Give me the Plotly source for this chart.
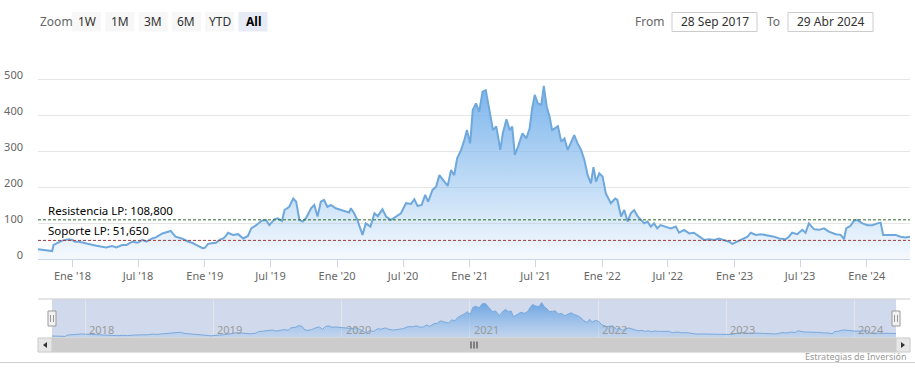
import plotly.graph_objects as go

W, H = 915, 380

# ---------------- data ----------------
dates = [
    "2017-09-28", "2017-10-10", "2017-10-24", "2017-11-06", "2017-11-10", "2017-11-20", "2017-12-04", "2017-12-22",
    "2018-01-02", "2018-01-08", "2018-01-19", "2018-02-06", "2018-02-24", "2018-03-08", "2018-03-24", "2018-04-04",
    "2018-04-20", "2018-05-02", "2018-05-18", "2018-05-30", "2018-06-15", "2018-06-30", "2018-07-13", "2018-07-24",
    "2018-08-09", "2018-08-19", "2018-09-06", "2018-09-18", "2018-09-29", "2018-10-12", "2018-10-30", "2018-11-17",
    "2018-11-27", "2018-12-08", "2018-12-17", "2018-12-26", "2019-01-01", "2019-01-10", "2019-01-20", "2019-02-01",
    "2019-02-11", "2019-02-21", "2019-03-01", "2019-03-06", "2019-03-20", "2019-04-03", "2019-04-17", "2019-04-30",
    "2019-05-09", "2019-05-23", "2019-06-06", "2019-06-19", "2019-06-28", "2019-07-12", "2019-07-21", "2019-08-02",
    "2019-08-09", "2019-08-22", "2019-09-02", "2019-09-10", "2019-09-19", "2019-09-28", "2019-10-07", "2019-10-21",
    "2019-10-30", "2019-11-08", "2019-11-17", "2019-11-26", "2019-12-05", "2019-12-15", "2019-12-28", "2020-01-11",
    "2020-01-25", "2020-02-03", "2020-02-08", "2020-02-17", "2020-02-26", "2020-03-11", "2020-03-20", "2020-04-02",
    "2020-04-13", "2020-04-22", "2020-05-05", "2020-05-15", "2020-05-28", "2020-06-11", "2020-06-25", "2020-07-09",
    "2020-07-23", "2020-08-01", "2020-08-10", "2020-08-21", "2020-08-31", "2020-09-08", "2020-09-20", "2020-09-30",
    "2020-10-09", "2020-10-18", "2020-11-01", "2020-11-10", "2020-11-19", "2020-11-27", "2020-12-08", "2020-12-17",
    "2020-12-24", "2021-01-02", "2021-01-09", "2021-01-18", "2021-01-27", "2021-02-05", "2021-02-14", "2021-02-23",
    "2021-03-06", "2021-03-15", "2021-03-26", "2021-04-02", "2021-04-12", "2021-04-21", "2021-04-28", "2021-05-05",
    "2021-05-14", "2021-05-26", "2021-06-06", "2021-06-15", "2021-06-22", "2021-06-29", "2021-07-08", "2021-07-17",
    "2021-07-24", "2021-08-01", "2021-08-09", "2021-08-16", "2021-08-25", "2021-09-01", "2021-09-10", "2021-09-19",
    "2021-09-28", "2021-10-07", "2021-10-16", "2021-10-25", "2021-11-04", "2021-11-13", "2021-11-22", "2021-12-01",
    "2021-12-08", "2021-12-15", "2021-12-24", "2022-01-02", "2022-01-11", "2022-01-25", "2022-02-06", "2022-02-12",
    "2022-02-22", "2022-03-03", "2022-03-12", "2022-03-21", "2022-03-30", "2022-04-08", "2022-04-18", "2022-04-27",
    "2022-05-06", "2022-05-15", "2022-05-24", "2022-06-02", "2022-06-11", "2022-06-25", "2022-07-09", "2022-07-23",
    "2022-08-01", "2022-08-15", "2022-08-29", "2022-09-11", "2022-09-25", "2022-10-09", "2022-10-23", "2022-11-06",
    "2022-11-19", "2022-12-03", "2022-12-17", "2022-12-26", "2023-01-09", "2023-01-23", "2023-02-06", "2023-02-15",
    "2023-03-01", "2023-03-15", "2023-03-28", "2023-04-11", "2023-04-20", "2023-05-04", "2023-05-22", "2023-05-31",
    "2023-06-09", "2023-06-23", "2023-07-07", "2023-07-16", "2023-07-25", "2023-08-08", "2023-08-22", "2023-09-05",
    "2023-09-18", "2023-10-07", "2023-10-21", "2023-10-30", "2023-11-05", "2023-11-17", "2023-11-26", "2023-12-06",
    "2023-12-20", "2024-01-03", "2024-01-16", "2024-01-30", "2024-02-08", "2024-02-15", "2024-03-02", "2024-03-20",
    "2024-04-03", "2024-04-17", "2024-04-29",
]
values = [
    27, 25, 23, 22, 39, 44, 51, 55,
    52, 48, 48, 44, 39, 37, 34, 32,
    36, 32, 39, 39, 48, 45, 53, 48,
    57, 60, 71, 74, 78, 62, 57, 48,
    45, 39, 34, 30, 31, 42, 44, 45,
    53, 57, 65, 73, 67, 69, 57, 64,
    85, 94, 106, 108, 94, 110, 113, 106,
    136, 145, 168, 159, 108, 104, 113, 141,
    150, 118, 159, 164, 145, 150, 141, 136,
    131, 129, 141, 127, 108, 67, 99, 90,
    127, 119, 138, 118, 108, 118, 127, 155,
    153, 166, 147, 150, 178, 159, 192, 201,
    233, 221, 203, 247, 233, 280, 303, 331,
    358, 321, 414, 432, 409, 465, 469, 419,
    358, 368, 303, 349, 388, 358, 368, 289,
    312, 349, 335, 363, 419, 456, 432, 428,
    481, 423, 395, 358, 363, 369, 326, 335,
    303, 326, 344, 321, 303, 275, 233, 210,
    255, 215, 238, 229, 182, 155, 168, 164,
    118, 136, 104, 127, 136, 120, 108, 99,
    104, 90, 99, 85, 94, 90, 85, 90,
    73, 81, 71, 73, 62, 53, 55, 53,
    57, 53, 48, 42, 48, 55, 62, 73,
    67, 69, 67, 64, 62, 57, 55, 62,
    73, 69, 81, 73, 99, 83, 81, 85,
    76, 69, 67, 55, 85, 92, 106, 108,
    99, 94, 94, 99, 101, 67, 67, 67,
    62, 60, 62,
]

resistance = 108.8
support = 51.65
res_label = "Resistencia LP: 108,800"
sup_label = "Soporte LP: 51,650"

x_start, x_end = "2017-09-28", "2024-04-29"
x_tickvals = ["2018-01-01", "2018-07-01", "2019-01-01", "2019-07-01", "2020-01-01", "2020-07-01",
              "2021-01-01", "2021-07-01", "2022-01-01", "2022-07-01", "2023-01-01", "2023-07-01", "2024-01-01"]
x_ticktext = ["Ene '18", "Jul '18", "Ene '19", "Jul '19", "Ene '20", "Jul '20",
              "Ene '21", "Jul '21", "Ene '22", "Jul '22", "Ene '23", "Jul '23", "Ene '24"]
y_tickvals = [0, 100, 200, 300, 400, 500]
nav_tickvals = ["2018-01-01", "2019-01-01", "2020-01-01", "2021-01-01", "2022-01-01", "2023-01-01", "2024-01-01"]
nav_ticktext = ["2018", "2019", "2020", "2021", "2022", "2023", "2024"]
zoom_buttons = ["1W", "1M", "3M", "6M", "YTD", "All"]
date_from = "28 Sep 2017"
date_to = "29 Abr 2024"
credits = "Estrategias de Inversión"

FONT = "Noto Sans"

def px(x):
    return x / W

def py(y):
    return 1 - y / H

fig = go.Figure()

grad = dict(type="vertical", start=0, stop=max(values),
            colorscale=[[0, "rgba(124,181,236,0.08)"], [1, "rgba(124,181,236,1)"]])

fig.add_trace(go.Scatter(
    x=dates, y=values, mode="lines", line=dict(color="#6fa8dc", width=2),
    fill="tozeroy", fillgradient=grad, xaxis="x", yaxis="y", showlegend=False,
    hovertemplate="%{x|%d %b %Y}<br>%{y}<extra></extra>",
))

nav_grad = dict(type="vertical", start=0, stop=max(values),
                colorscale=[[0, "rgba(124,181,236,0.15)"], [1, "rgba(110,165,225,1)"]])
fig.add_trace(go.Scatter(
    x=dates, y=values, mode="lines", line=dict(color="#7aa9dc", width=1),
    fill="tozeroy", fillgradient=nav_grad, xaxis="x2", yaxis="y2", showlegend=False,
    hoverinfo="skip",
))

shapes = []
annotations = []

# resistance / support lines
for val, col, lab in [(resistance, "#2d6a2d", res_label), (support, "#a33a3a", sup_label)]:
    shapes.append(dict(type="line", xref="x domain", yref="y", x0=0, x1=1, y0=val, y1=val,
                       line=dict(color=col, width=1, dash="3px,2px"), layer="above"))
    annotations.append(dict(xref="x domain", yref="y", x=0, y=val, xshift=8, yshift=0,
                            text=lab, showarrow=False, xanchor="left", yanchor="bottom",
                            font=dict(family=FONT, size=11.5, color="#000000")))

# navigator year labels
for tv, tt in zip(nav_tickvals, nav_ticktext):
    annotations.append(dict(xref="x2", yref="paper", x=tv, y=py(329), xshift=2, text=tt, showarrow=False,
                            xanchor="left", yanchor="middle", font=dict(family=FONT, size=11, color="#999999")))

# navigator mask (behind grid)
shapes.append(dict(type="rect", xref="paper", yref="paper", x0=px(52), x1=px(896), y0=py(338), y1=py(299),
                   fillcolor="rgba(102,133,194,0.30)", line=dict(width=0), layer="below"))
# navigator outline
shapes.append(dict(type="line", xref="paper", yref="paper", x0=px(38), x1=px(910), y0=py(299), y1=py(299),
                   line=dict(color="#cccccc", width=1)))

# scrollbar
shapes.append(dict(type="rect", xref="paper", yref="paper", x0=px(38), x1=px(910), y0=py(352), y1=py(338),
                   fillcolor="#f2f2f2", line=dict(color="#f2f2f2", width=1)))
shapes.append(dict(type="rect", xref="paper", yref="paper", x0=px(52), x1=px(896), y0=py(352), y1=py(338),
                   fillcolor="#cccccc", line=dict(color="#cccccc", width=1)))
for bx in (38, 896):
    shapes.append(dict(type="rect", xref="paper", yref="paper", x0=px(bx), x1=px(bx + 14), y0=py(352), y1=py(338),
                       fillcolor="#e6e6e6", line=dict(color="#cccccc", width=1)))
shapes.append(dict(type="path", xref="paper", yref="paper",
                   path=f"M {px(43)} {py(345)} L {px(47)} {py(342)} L {px(47)} {py(348)} Z",
                   fillcolor="#333333", line=dict(width=0)))
shapes.append(dict(type="path", xref="paper", yref="paper",
                   path=f"M {px(905)} {py(345)} L {px(901)} {py(342)} L {px(901)} {py(348)} Z",
                   fillcolor="#333333", line=dict(width=0)))
for rx in (471, 474, 477):
    shapes.append(dict(type="line", xref="paper", yref="paper", x0=px(rx), x1=px(rx), y0=py(341.5), y1=py(348.5),
                       line=dict(color="#333333", width=1)))

# navigator handles
for hx in (52, 896):
    shapes.append(dict(type="rect", xref="paper", yref="paper", x0=px(hx - 4), x1=px(hx + 4), y0=py(326), y1=py(311),
                       fillcolor="#f2f2f2", line=dict(color="#999999", width=1)))
    for lx in (hx - 1.5, hx + 1.5):
        shapes.append(dict(type="line", xref="paper", yref="paper", x0=px(lx), x1=px(lx), y0=py(322), y1=py(315),
                           line=dict(color="#999999", width=1)))

# range selector (static)
annotations.append(dict(xref="paper", yref="paper", x=px(38), y=py(21.5), text="Zoom", showarrow=False,
                        xanchor="left", yanchor="middle", font=dict(family=FONT, size=12, color="#666666")))
for i, lab in enumerate(zoom_buttons):
    x0 = 72 + i * 33.3
    sel = lab == "All"
    shapes.append(dict(type="rect", xref="paper", yref="paper", x0=px(x0), x1=px(x0 + 29), y0=py(31.5), y1=py(12),
                       fillcolor="#e6ebf5" if sel else "#f7f7f7", line=dict(width=0)))
    annotations.append(dict(xref="paper", yref="paper", x=px(x0 + 14.5), y=py(21.5),
                            text=f"<b>{lab}</b>" if sel else lab, showarrow=False,
                            xanchor="center", yanchor="middle",
                            font=dict(family=FONT, size=12, color="#000000" if sel else "#333333")))

# date inputs
annotations.append(dict(xref="paper", yref="paper", x=px(666), y=py(21.5), text="From", showarrow=False,
                        xanchor="right", yanchor="middle", font=dict(family=FONT, size=12, color="#666666")))
annotations.append(dict(xref="paper", yref="paper", x=px(782), y=py(21.5), text="To", showarrow=False,
                        xanchor="right", yanchor="middle", font=dict(family=FONT, size=12, color="#666666")))
for bx0, txt in [(672, date_from), (788, date_to)]:
    shapes.append(dict(type="rect", xref="paper", yref="paper", x0=px(bx0), x1=px(bx0 + 85), y0=py(31.5), y1=py(12.5),
                       fillcolor="#ffffff", line=dict(color="#cccccc", width=1)))
    annotations.append(dict(xref="paper", yref="paper", x=px(bx0 + 42.5), y=py(22), text=txt, showarrow=False,
                            xanchor="center", yanchor="middle", font=dict(family=FONT, size=12, color="#333333")))

# credits + bottom rule
annotations.append(dict(xref="paper", yref="paper", x=px(909), y=py(356), text=credits, showarrow=False,
                        xanchor="right", yanchor="middle", font=dict(family=FONT, size=9, color="#999999")))
shapes.append(dict(type="line", xref="paper", yref="paper", x0=0, x1=1, y0=py(362.5), y1=py(362.5),
                   line=dict(color="#d0d0d0", width=1)))

fig.update_layout(
    width=W, height=H,
    margin=dict(l=0, r=0, t=0, b=0, pad=0),
    paper_bgcolor="#ffffff", plot_bgcolor="#ffffff",
    font=dict(family=FONT, size=11, color="#666666"),
    showlegend=False,
    hovermode="x",
    xaxis=dict(
        domain=[px(38), px(910)], anchor="y", type="date", range=[x_start, x_end], automargin=False,
        tickmode="array", tickvals=x_tickvals, ticktext=x_ticktext,
        showgrid=False, zeroline=False, showline=True, linecolor="#ccd6eb", linewidth=1,
        ticks="outside", ticklen=7, tickcolor="#ccd6eb",
        tickfont=dict(family=FONT, size=11, color="#666666"),
    ),
    yaxis=dict(
        domain=[py(259), py(70)], anchor="x", range=[0, 525], automargin=False,
        tickmode="array", tickvals=y_tickvals,
        showgrid=True, gridcolor="#e6e6e6", gridwidth=1, zeroline=False, showline=False,
        ticks="", ticklabelshift=-4, ticklabelstandoff=14,
        tickfont=dict(family=FONT, size=11, color="#666666"),
    ),
    xaxis2=dict(
        domain=[px(52), px(896)], anchor="y2", type="date", range=[x_start, x_end], automargin=False,
        tickmode="array", tickvals=nav_tickvals, showticklabels=False,
        showgrid=True, gridcolor="#e6e6e6", gridwidth=1, zeroline=False, showline=False, ticks="",
    ),
    yaxis2=dict(
        domain=[py(338), py(299)], anchor="x2", range=[0, 530], visible=False, automargin=False,
    ),
    shapes=shapes,
    annotations=annotations,
)

fig.write_html("out.html", config={"displayModeBar": False},
               post_script="document.body.style.margin='0px';document.body.style.overflow='hidden';")
